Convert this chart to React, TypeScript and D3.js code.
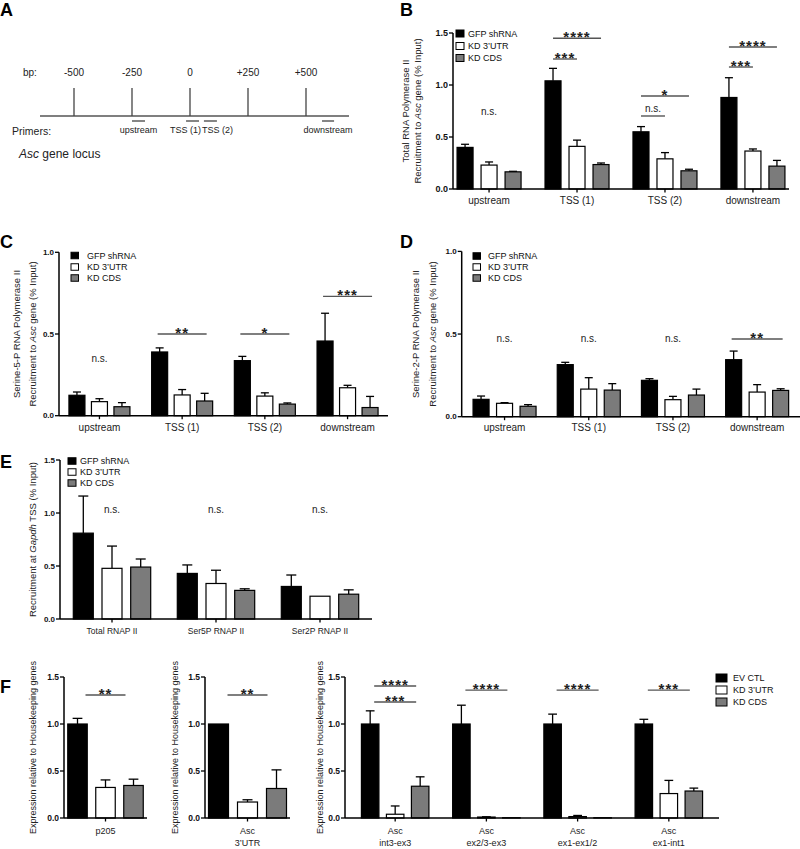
import React from "react";
import * as d3 from "d3";

const FONT = "'Liberation Sans', Arial, Helvetica, sans-serif";

// ---------------- Panel A data ----------------
const locusBp = [-500, -250, 0, 250, 500];
const locusBpLabels = ["-500", "-250", "0", "+250", "+500"];
const primerNames = ["upstream", "TSS (1)", "TSS (2)", "downstream"];
const primerStart = [-250, -17, 60, 569];
const primerEnd = [-194, 39, 116, 621];

// ---------------- Shared categories / series ----------------
const locusCats = ["upstream", "TSS (1)", "TSS (2)", "downstream"];
const chipSeries = ["GFP shRNA", "KD 3\u2019UTR", "KD CDS"];
const exprSeries = ["EV CTL", "KD 3\u2019UTR", "KD CDS"];
const seriesFills = ["#000000", "#ffffff", "#7b7b7b"];
const ticks15 = [0, 0.5, 1.0, 1.5];
const ticks10 = [0, 0.5, 1.0];

// ---------------- Panel B: Total RNA Pol II ----------------
const totalGFP = [0.40, 1.04, 0.55, 0.88];
const totalGFPErr = [0.03, 0.12, 0.05, 0.19];
const totalUTR = [0.23, 0.41, 0.29, 0.365];
const totalUTRErr = [0.03, 0.06, 0.06, 0.02];
const totalCDS = [0.165, 0.235, 0.175, 0.22];
const totalCDSErr = [0.005, 0.015, 0.015, 0.055];

// ---------------- Panel C: Ser5P ----------------
const ser5GFP = [0.125, 0.39, 0.337, 0.457];
const ser5GFPErr = [0.02, 0.025, 0.026, 0.17];
const ser5UTR = [0.086, 0.127, 0.12, 0.171];
const ser5UTRErr = [0.018, 0.033, 0.02, 0.015];
const ser5CDS = [0.055, 0.09, 0.071, 0.05];
const ser5CDSErr = [0.025, 0.047, 0.007, 0.068];

// ---------------- Panel D: Ser2P ----------------
const ser2GFP = [0.105, 0.315, 0.22, 0.345];
const ser2GFPErr = [0.02, 0.014, 0.01, 0.052];
const ser2UTR = [0.081, 0.167, 0.103, 0.149];
const ser2UTRErr = [0.004, 0.069, 0.02, 0.045];
const ser2CDS = [0.063, 0.161, 0.131, 0.159];
const ser2CDSErr = [0.01, 0.039, 0.036, 0.01];

// ---------------- Panel E: Gapdh TSS ----------------
const gapdhCats = ["Total RNAP II", "Ser5P RNAP II", "Ser2P RNAP II"];
const gapdhGFP = [0.81, 0.43, 0.307];
const gapdhGFPErr = [0.35, 0.08, 0.108];
const gapdhUTR = [0.478, 0.335, 0.215];
const gapdhUTRErr = [0.21, 0.125, 0];
const gapdhCDS = [0.49, 0.27, 0.234];
const gapdhCDSErr = [0.076, 0.015, 0.041];

// ---------------- Panel F: expression ----------------
const p205Cats = ["p205"];
const p205Vals = [1.0, 0.325, 0.346];
const p205Errs = [0.06, 0.08, 0.067];
const asc3Cats = ["Asc\n3\u2019UTR"];
const asc3Vals = [1.0, 0.17, 0.314];
const asc3Errs = [0, 0.024, 0.198];
const ascCats = ["Asc\nint3-ex3", "Asc\nex2/3-ex3", "Asc\nex1-ex1/2", "Asc\nex1-int1"];
const ascEV = [1.0, 1.0, 1.0, 1.0];
const ascEVErr = [0.14, 0.2, 0.105, 0.05];
const ascUTR = [0.04, 0.01, 0.015, 0.26];
const ascUTRErr = [0.088, 0.003, 0.012, 0.14];
const ascCDS = [0.338, 0.003, 0.003, 0.287];
const ascCDSErr = [0.1, 0, 0, 0.031];

// significance: [category index, from series, to series, y (data), label, hasLine]
type Sig = [number, number, number, number, string, boolean];
const sigB: Sig[] = [
  [0, 0, 2, 0.673, "n.s.", false],
  [1, 0, 2, 1.449, "****", true],
  [1, 0, 1, 1.25, "***", true],
  [2, 0, 2, 0.894, "*", true],
  [2, 0, 1, 0.702, "n.s.", true],
  [3, 0, 2, 1.365, "****", true],
  [3, 0, 1, 1.173, "***", true],
];
const sigC: Sig[] = [
  [0, 0, 2, 0.304, "n.s.", false],
  [1, 0, 2, 0.5, "**", true],
  [2, 0, 2, 0.5, "*", true],
  [3, 0, 2, 0.73, "***", true],
];
const sigD: Sig[] = [
  [0, 0, 2, 0.428, "n.s.", false],
  [1, 0, 2, 0.428, "n.s.", false],
  [2, 0, 2, 0.428, "n.s.", false],
  [3, 0, 2, 0.47, "**", true],
];
const sigE: Sig[] = [
  [0, 0, 2, 0.962, "n.s.", false],
  [1, 0, 2, 0.962, "n.s.", false],
  [2, 0, 2, 0.962, "n.s.", false],
];
const sigF1: Sig[] = [[0, 0, 2, 1.309, "**", true]];
const sigF2: Sig[] = [[0, 0, 2, 1.309, "**", true]];
const sigF3: Sig[] = [
  [0, 0, 2, 1.404, "****", true],
  [0, 0, 2, 1.234, "***", true],
  [1, 0, 2, 1.36, "****", true],
  [2, 0, 2, 1.36, "****", true],
  [3, 0, 2, 1.36, "***", true],
];

type Seg = { t: string; i?: boolean };

interface PanelProps {
  cats: string[];
  vals: number[][];
  errs: number[][];
  x0: number;
  x1: number;
  y0: number;
  yTop: number;
  yMax: number;
  ticks: number[];
  pad: number;
  barW: number;
  step: number;
  tickSize: number;
  catSize: number;
  catDy: number;
  sigs: Sig[];
  sigExt: number;
  legend?: { labels: string[]; x: number; ys: number[]; w: number; h: number; tx: number; size: number };
  ylab: { lines: Seg[][]; xs: number[]; size: number };
}

function Panel(p: PanelProps) {
  const y = d3.scaleLinear().domain([0, p.yMax]).range([p.y0, p.yTop]);
  const x = d3.scalePoint<string>().domain(p.cats).range([p.x0, p.x1]).padding(p.pad);
  const n = p.vals.length;
  const off = (i: number) => (i - (n - 1) / 2) * p.step;
  const yMid = (p.y0 + y(p.ticks[p.ticks.length - 1])) / 2;
  const fmt = d3.format(".1f");
  return (
    <g fontFamily={FONT}>
      {/* bars */}
      {p.vals.map((sv, si) =>
        sv.map((v, ci) => {
          const cx = (x(p.cats[ci]) as number) + off(si);
          const e = p.errs[si][ci];
          return (
            <g key={`b${si}-${ci}`}>
              {e > 0 && (
                <g stroke="#000" strokeWidth={1.3}>
                  <line x1={cx} x2={cx} y1={y(v)} y2={y(v + e)} />
                  <line x1={cx - p.barW / 4} x2={cx + p.barW / 4} y1={y(v + e)} y2={y(v + e)} />
                </g>
              )}
              <rect
                x={cx - p.barW / 2}
                y={y(v)}
                width={p.barW}
                height={Math.max(0, p.y0 - y(v))}
                fill={seriesFills[si]}
                stroke="#000"
                strokeWidth={1.2}
              />
            </g>
          );
        })
      )}
      {/* y axis */}
      <line x1={p.x0} x2={p.x0} y1={p.y0} y2={y(p.ticks[p.ticks.length - 1])} stroke="#000" strokeWidth={1.5} />
      {p.ticks.map((t) => (
        <g key={`t${t}`}>
          <line x1={p.x0 - 4} x2={p.x0} y1={y(t)} y2={y(t)} stroke="#000" strokeWidth={1.3} />
          <text
            x={p.x0 - 5}
            y={y(t)}
            textAnchor="end"
            dominantBaseline="central"
            fontSize={p.tickSize}
            fontWeight="bold"
            fill="#111"
          >
            {fmt(t)}
          </text>
        </g>
      ))}
      {/* x axis */}
      <line x1={p.x0} x2={p.x1} y1={p.y0} y2={p.y0} stroke="#000" strokeWidth={1.6} />
      {p.cats.map((c) => {
        const cx = x(c) as number;
        const parts = c.split("\n");
        return (
          <g key={`c${c}`}>
            <line x1={cx} x2={cx} y1={p.y0} y2={p.y0 + 3.5} stroke="#000" strokeWidth={1.3} />
            {parts.map((s, k) => (
              <text
                key={k}
                x={cx}
                y={p.y0 + p.catDy + k * (p.catSize + 3)}
                textAnchor="middle"
                dominantBaseline="central"
                fontSize={p.catSize}
                fill="#222"
              >
                {s}
              </text>
            ))}
          </g>
        );
      })}
      {/* significance */}
      {p.sigs.map((s, k) => {
        const [ci, a, b, yv, label, hasLine] = s;
        const base = x(p.cats[ci]) as number;
        const xa = base + off(a) - p.sigExt;
        const xb = base + off(b) + p.sigExt;
        const yy = y(yv);
        const isStar = label.indexOf("*") >= 0;
        const tx = hasLine ? (xa + xb) / 2 : base;
        return (
          <g key={`s${k}`}>
            {hasLine && <line x1={xa} x2={xb} y1={yy} y2={yy} stroke="#555" strokeWidth={1.4} />}
            <text
              x={tx}
              y={isStar ? yy + 4 : yy - 4}
              textAnchor="middle"
              fontSize={isStar ? 15 : 10}
              fontWeight={isStar ? "bold" : "normal"}
              letterSpacing={isStar ? 1 : 0}
              fill="#222"
            >
              {label}
            </text>
          </g>
        );
      })}
      {/* legend */}
      {p.legend &&
        p.legend.labels.map((l, i) => (
          <g key={`l${i}`}>
            <rect
              x={p.legend!.x}
              y={p.legend!.ys[i] - p.legend!.h / 2}
              width={p.legend!.w}
              height={p.legend!.h}
              fill={seriesFills[i]}
              stroke="#000"
              strokeWidth={1}
            />
            <text
              x={p.legend!.tx}
              y={p.legend!.ys[i]}
              dominantBaseline="central"
              fontSize={p.legend!.size}
              fill="#111"
            >
              {l}
            </text>
          </g>
        ))}
      {/* y label */}
      {p.ylab.lines.map((line, k) => (
        <text
          key={`y${k}`}
          transform={`translate(${p.ylab.xs[k]},${yMid}) rotate(-90)`}
          textAnchor="middle"
          dominantBaseline="central"
          fontSize={p.ylab.size}
          fill="#222"
        >
          {line.map((sg, j) => (
            <tspan key={j} fontStyle={sg.i ? "italic" : "normal"}>
              {sg.t}
            </tspan>
          ))}
        </text>
      ))}
    </g>
  );
}

function PanelA() {
  const bx = d3.scaleLinear().domain([-500, 500]).range([74, 306]);
  const labelDx = [0, -7, 7, 0];
  return (
    <g fontFamily={FONT} fill="#222">
      <text x={23} y={72} dominantBaseline="central" fontSize={10}>
        bp:
      </text>
      <line x1={40} x2={349} y1={116} y2={116} stroke="#555" strokeWidth={1.3} />
      {locusBp.map((b, i) => (
        <g key={b}>
          <line x1={bx(b)} x2={bx(b)} y1={88} y2={116} stroke="#444" strokeWidth={1.3} />
          <text x={bx(b)} y={72} textAnchor="middle" dominantBaseline="central" fontSize={10}>
            {locusBpLabels[i]}
          </text>
        </g>
      ))}
      {primerNames.map((nm, i) => {
        const a = bx(primerStart[i]);
        const b = bx(primerEnd[i]);
        return (
          <g key={nm}>
            <line x1={a} x2={b} y1={121} y2={121} stroke="#333" strokeWidth={1.2} />
            <text x={(a + b) / 2 + labelDx[i]} y={130} textAnchor="middle" dominantBaseline="central" fontSize={9}>
              {nm}
            </text>
          </g>
        );
      })}
      <text x={12} y={131} dominantBaseline="central" fontSize={10.5}>
        Primers:
      </text>
      <text x={19} y={154} dominantBaseline="central" fontSize={12}>
        <tspan fontStyle="italic">Asc</tspan>
        <tspan> gene locus</tspan>
      </text>
    </g>
  );
}

const recruitAsc: Seg[] = [{ t: "Recruitment to " }, { t: "Asc", i: true }, { t: " gene (% Input)" }];
const exprLab: Seg[][] = [[{ t: "Expression relative to Housekeeping genes" }]];

export default function App() {
  const letters: [string, number, number][] = [
    ["A", 0, 16],
    ["B", 400, 16],
    ["C", 0, 248],
    ["D", 400, 248],
    ["E", 0, 468],
    ["F", 0, 693],
  ];
  return (
    <svg
      width={800}
      height={849}
      viewBox="0 0 800 849"
      style={{ position: "absolute", left: 0, top: 0, background: "#fff" }}
    >
      <rect width={800} height={849} fill="#fff" />
      {letters.map(([l, x, y]) => (
        <text key={l} x={x} y={y} fontFamily={FONT} fontSize={18} fontWeight="bold" fill="#000">
          {l}
        </text>
      ))}
      <PanelA />
      {/* B */}
      <Panel
        cats={locusCats}
        vals={[totalGFP, totalUTR, totalCDS]}
        errs={[totalGFPErr, totalUTRErr, totalCDSErr]}
        x0={453}
        x1={789}
        y0={189}
        yTop={33}
        yMax={1.5}
        ticks={ticks15}
        pad={0.41}
        barW={16}
        step={24}
        tickSize={9}
        catSize={10}
        catDy={11}
        sigs={sigB}
        sigExt={0}
        legend={{ labels: chipSeries, x: 456, ys: [33.5, 46, 58], w: 8, h: 7, tx: 468, size: 9 }}
        ylab={{ lines: [[{ t: "Total RNA Polymerase II" }], recruitAsc], xs: [405, 417], size: 9.5 }}
      />
      {/* C */}
      <Panel
        cats={locusCats}
        vals={[ser5GFP, ser5UTR, ser5CDS]}
        errs={[ser5GFPErr, ser5UTRErr, ser5CDSErr]}
        x0={59}
        x1={388}
        y0={415.7}
        yTop={252.3}
        yMax={1.0}
        ticks={ticks10}
        pad={0.489}
        barW={16}
        step={22.5}
        tickSize={8}
        catSize={10}
        catDy={12}
        sigs={sigC}
        sigExt={2}
        legend={{ labels: chipSeries, x: 71, ys: [255.5, 267, 278], w: 7.5, h: 6.5, tx: 87, size: 9 }}
        ylab={{ lines: [[{ t: "Serine-5-P RNA Polymerase II" }], recruitAsc], xs: [16, 32], size: 9.5 }}
      />
      {/* D */}
      <Panel
        cats={locusCats}
        vals={[ser2GFP, ser2UTR, ser2CDS]}
        errs={[ser2GFPErr, ser2UTRErr, ser2CDSErr]}
        x0={461.7}
        x1={800}
        y0={416.7}
        yTop={251.4}
        yMax={1.0}
        ticks={ticks10}
        pad={0.509}
        barW={16}
        step={23.5}
        tickSize={8}
        catSize={10}
        catDy={11}
        sigs={sigD}
        sigExt={2}
        legend={{ labels: chipSeries, x: 473, ys: [256, 267, 278], w: 7.5, h: 6.5, tx: 488, size: 9 }}
        ylab={{ lines: [[{ t: "Serine-2-P RNA Polymerase II" }], recruitAsc], xs: [415, 432], size: 9.5 }}
      />
      {/* E */}
      <Panel
        cats={gapdhCats}
        vals={[gapdhGFP, gapdhUTR, gapdhCDS]}
        errs={[gapdhGFPErr, gapdhUTRErr, gapdhCDSErr]}
        x0={60}
        x1={372}
        y0={619}
        yTop={460}
        yMax={1.5}
        ticks={ticks15}
        pad={0.5}
        barW={20}
        step={28.7}
        tickSize={8}
        catSize={8.5}
        catDy={12}
        sigs={sigE}
        sigExt={0}
        legend={{ labels: chipSeries, x: 68, ys: [461, 472, 483], w: 8, h: 6.5, tx: 80, size: 9 }}
        ylab={{ lines: [[{ t: "Recruitment at " }, { t: "Gapdh", i: true }, { t: " TSS (% Input)" }]], xs: [32], size: 9.5 }}
      />
      {/* F1 */}
      <Panel
        cats={p205Cats}
        vals={[[p205Vals[0]], [p205Vals[1]], [p205Vals[2]]]}
        errs={[[p205Errs[0]], [p205Errs[1]], [p205Errs[2]]]}
        x0={64}
        x1={147}
        y0={818}
        yTop={677}
        yMax={1.5}
        ticks={ticks15}
        pad={0.5}
        barW={19.5}
        step={28}
        tickSize={8.5}
        catSize={9}
        catDy={13}
        sigs={sigF1}
        sigExt={-8}
        ylab={{ lines: exprLab, xs: [33], size: 9 }}
      />
      {/* F2 */}
      <Panel
        cats={asc3Cats}
        vals={[[asc3Vals[0]], [asc3Vals[1]], [asc3Vals[2]]]}
        errs={[[asc3Errs[0]], [asc3Errs[1]], [asc3Errs[2]]]}
        x0={205}
        x1={290}
        y0={818}
        yTop={677}
        yMax={1.5}
        ticks={ticks15}
        pad={0.5}
        barW={20}
        step={29}
        tickSize={8.5}
        catSize={9}
        catDy={13}
        sigs={sigF2}
        sigExt={-9}
        ylab={{ lines: exprLab, xs: [175], size: 9 }}
      />
      {/* F3 */}
      <Panel
        cats={ascCats}
        vals={[ascEV, ascUTR, ascCDS]}
        errs={[ascEVErr, ascUTRErr, ascCDSErr]}
        x0={345}
        x1={719}
        y0={818}
        yTop={677}
        yMax={1.5}
        ticks={ticks15}
        pad={0.55}
        barW={17.5}
        step={25}
        tickSize={8.5}
        catSize={9}
        catDy={13}
        sigs={sigF3}
        sigExt={-4}
        legend={{ labels: exprSeries, x: 716, ys: [678, 690, 702], w: 11, h: 8, tx: 733, size: 9 }}
        ylab={{ lines: exprLab, xs: [320], size: 9 }}
      />
    </svg>
  );
}
